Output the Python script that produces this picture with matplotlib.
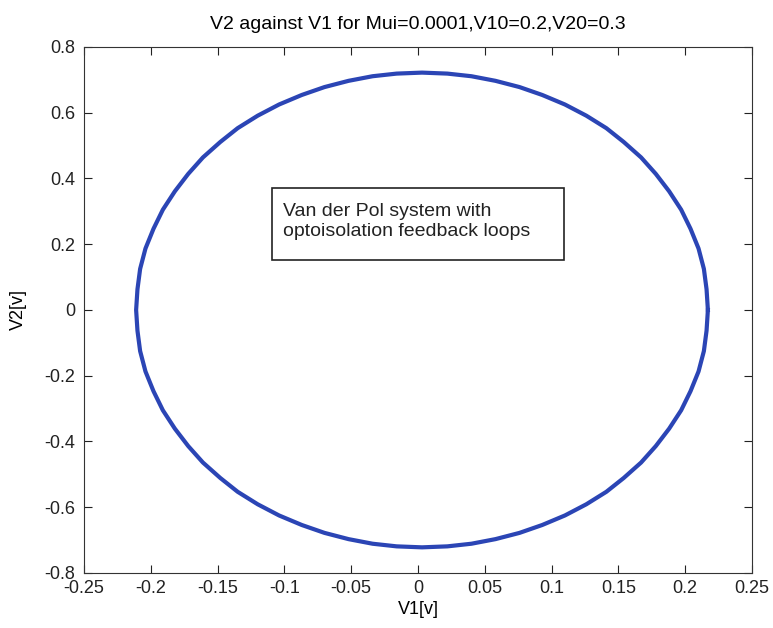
import matplotlib
matplotlib.use("Agg")
import matplotlib.pyplot as plt
from matplotlib.patches import Rectangle

BLUE = "#2b45b5"

v1_upper = [0.217, 0.216, 0.214, 0.210, 0.204, 0.197, 0.188, 0.178, 0.167,
            0.154, 0.141, 0.126, 0.110, 0.093, 0.076, 0.058, 0.040, 0.022,
            0.003, -0.016, -0.034, -0.052, -0.070, -0.087, -0.104, -0.120,
            -0.135, -0.148, -0.161, -0.172, -0.182, -0.191, -0.198, -0.204,
            -0.208, -0.210, -0.211]
v2_upper = [0.0, 0.063, 0.125, 0.187, 0.247, 0.305, 0.361, 0.414, 0.464,
            0.511, 0.553, 0.591, 0.625, 0.654, 0.678, 0.697, 0.711, 0.719,
            0.722, 0.719, 0.711, 0.697, 0.678, 0.654, 0.625, 0.591,
            0.553, 0.511, 0.464, 0.414, 0.361, 0.305, 0.247, 0.187,
            0.125, 0.063, 0.0]
v1_lower = [-0.210, -0.208, -0.204, -0.198, -0.191, -0.182, -0.172, -0.161,
            -0.148, -0.135, -0.120, -0.104, -0.087, -0.070, -0.052, -0.034,
            -0.016, 0.003, 0.022, 0.040, 0.058, 0.076, 0.093, 0.110, 0.126,
            0.141, 0.154, 0.167, 0.178, 0.188, 0.197, 0.204, 0.210, 0.214,
            0.216, 0.217]
v2_lower = [-0.063, -0.125, -0.187, -0.247, -0.305, -0.361, -0.414, -0.464,
            -0.511, -0.553, -0.591, -0.625, -0.654, -0.678, -0.697, -0.711,
            -0.719, -0.722, -0.719, -0.711, -0.697, -0.678, -0.654, -0.625,
            -0.591, -0.553, -0.511, -0.464, -0.414, -0.361, -0.305, -0.247,
            -0.187, -0.125, -0.063, 0.0]

xticks = [-0.25, -0.2, -0.15, -0.1, -0.05, 0, 0.05, 0.1, 0.15, 0.2, 0.25]
yticks = [-0.8, -0.6, -0.4, -0.2, 0, 0.2, 0.4, 0.6, 0.8]

plt.rcParams["font.family"] = ["Liberation Sans", "DejaVu Sans"]

fig = plt.figure(figsize=(7.73, 6.28), dpi=100)
ax = fig.add_axes([0.1087, 0.0876, 0.8641, 0.8376])

ax.plot(v1_upper + v1_lower, v2_upper + v2_lower, color=BLUE,
        linewidth=3, solid_joinstyle="round")

ax.set_xlim(-0.25, 0.25)
ax.set_ylim(-0.8, 0.8)
ax.set_xticks(xticks)
ax.set_yticks(yticks)
ax.set_xticklabels([f"{t:g}" for t in xticks])
ax.set_yticklabels([f"{t:g}" for t in yticks])
ax.tick_params(direction="in", length=6, top=True, right=True,
               labelsize=13, colors="#222222")
ax.tick_params(axis="x", pad=5)
ax.tick_params(axis="y", pad=6.5)
for s in ax.spines.values():
    s.set_color("#333333")

ax.set_title("V2 against V1 for Mui=0.0001,V10=0.2,V20=0.3",
             fontsize=14, pad=13)
ax.set_xlabel("V1[v]", fontsize=13, labelpad=3)
ax.set_ylabel("V2[v]", fontsize=13, labelpad=12)

# annotation box
ax.add_patch(Rectangle((0.2814, 0.595), 0.4372, 0.137,
                       transform=ax.transAxes, fill=False,
                       edgecolor="#222222", linewidth=1.2))
ax.text(0.298, 0.668, "Van der Pol system with\noptoisolation feedback loops",
        transform=ax.transAxes, ha="left", va="center",
        fontsize=14, linespacing=1.2, color="#222222")

fig.savefig("out.png", dpi=100)
